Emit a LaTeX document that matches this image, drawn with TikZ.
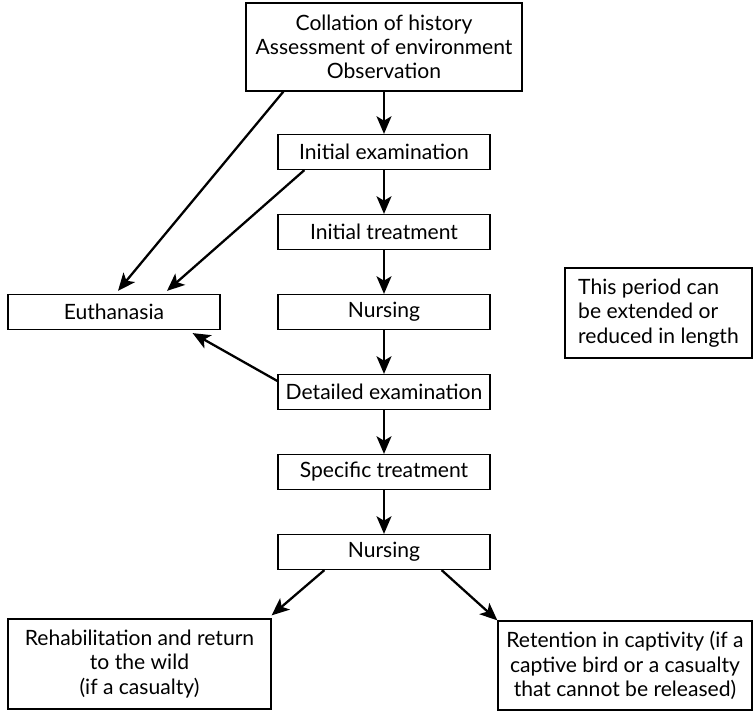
\documentclass[tikz,border=0pt]{standalone}
\usepackage{fontspec}
\setmainfont{Lato}
\usepackage{tikz}
\usetikzlibrary{positioning, arrows.meta}

\tikzset{
  stepbox/.style={draw, line width=0.7pt, minimum width=4.24cm, minimum height=0.7cm, inner sep=0pt, font=\fontsize{12}{14}\selectfont},
  bigbox/.style={draw, line width=0.7pt, inner sep=0pt, align=center, font=\fontsize{12}{13.8}\selectfont},
  arr/.style={-{Stealth[length=10pt, width=8.5pt, inset=2.5pt]}, line width=1.3pt}
}

\begin{document}
\begin{tikzpicture}
        \useasboundingbox (0,0) rectangle (15.12,14.24);

        % main chain
        \node[bigbox, minimum width=5.52cm, minimum height=1.76cm] (hist) at (7.68,13.3)
            {Collation of history\\Assessment of environment\\Observation};
        \node[stepbox] (iexam) at (7.68,11.2) {Initial examination};
        \node[stepbox] (itreat) at (7.68,9.6) {Initial treatment};
        \node[stepbox] (nurs1) at (7.68,8.0) {Nursing};
        \node[stepbox] (dexam) at (7.68,6.4) {Detailed examination};
        \node[stepbox] (streat) at (7.68,4.8) {Specific treatment};
        \node[stepbox] (nurs2) at (7.68,3.2) {Nursing};

        \node[stepbox] (euth) at (2.28,8.0) {Euthanasia};
        \node[bigbox, minimum width=3.74cm, minimum height=1.8cm, align=left] (period) at (13.17,7.98)
            {This period can\\be extended or\\reduced in length};

        \node[bigbox, minimum width=5.26cm, minimum height=1.8cm] (rehab) at (2.79,0.96)
            {Rehabilitation and return\\to the wild\\(if a casualty)};
        \node[bigbox, minimum width=5.08cm, minimum height=1.78cm] (retain) at (12.5,0.93)
            {Retention in captivity (if a\\captive bird or a casualty\\that cannot be released)};

        % arrows
        \draw[arr] (hist) -- (iexam);
        \draw[arr] (iexam) -- (itreat);
        \draw[arr] (itreat) -- (nurs1);
        \draw[arr] (nurs1) -- (dexam);
        \draw[arr] (dexam) -- (streat);
        \draw[arr] (streat) -- (nurs2);

        \draw[arr] ([xshift=0.76cm]hist.south west) -- ([xshift=0.08cm,yshift=0.06cm]euth.north);
        \draw[arr] ([xshift=0.54cm]iexam.south west) -- ([xshift=1.06cm,yshift=0.06cm]euth.north);
        \draw[arr] ([yshift=0.22cm]dexam.west) -- ([xshift=-0.56cm,yshift=-0.06cm]euth.south east);

        \draw[arr] ([xshift=0.94cm]nurs2.south west) -- ([yshift=0.06cm]rehab.north east);
        \draw[arr] ([xshift=-0.98cm]nurs2.south east) -- (retain.north west);
    \end{tikzpicture}
\end{document}
